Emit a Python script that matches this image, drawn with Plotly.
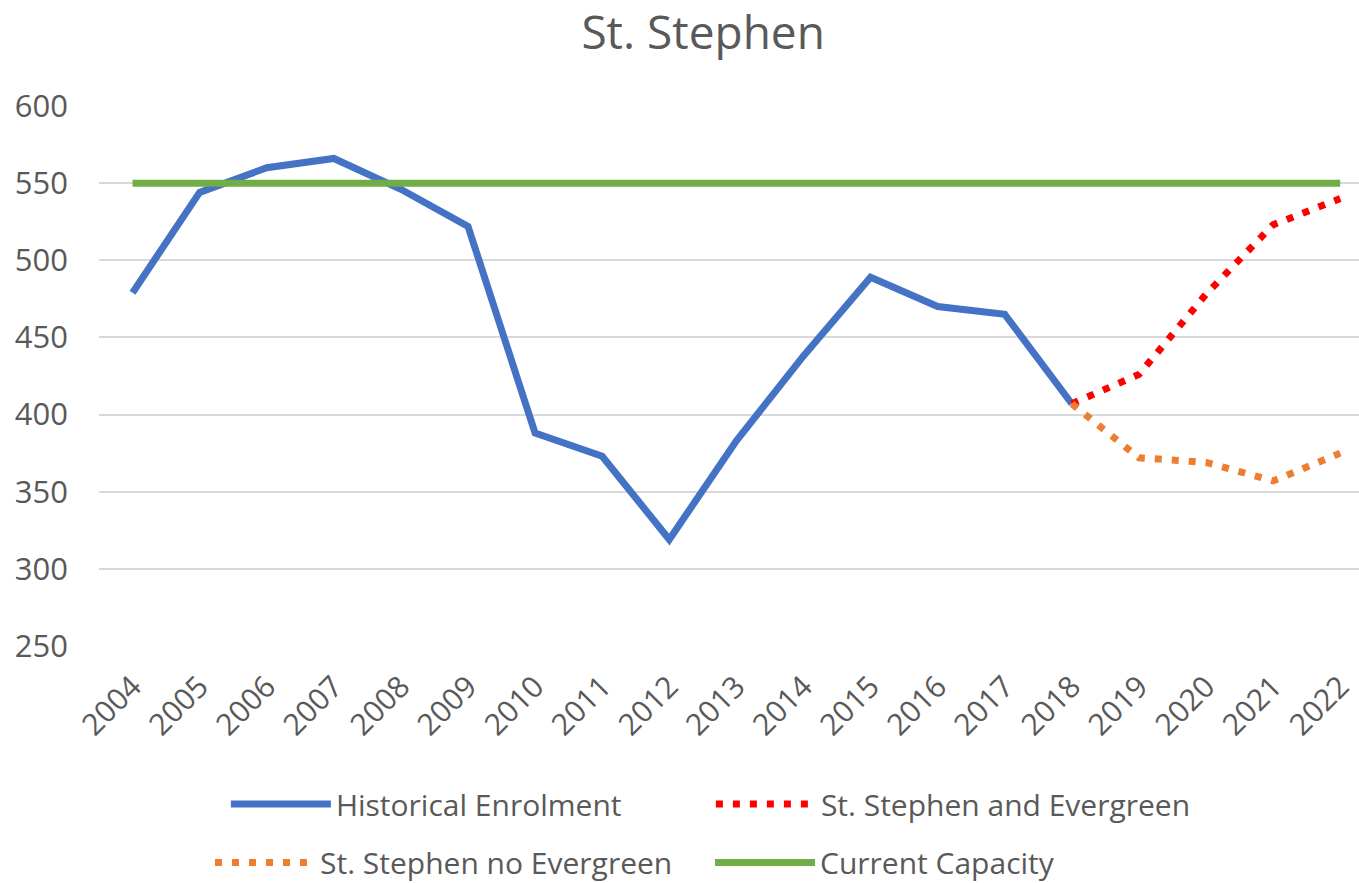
import plotly.graph_objects as go

years = [str(y) for y in range(2004, 2023)]
hist_years = [str(y) for y in range(2004, 2019)]
proj_years = [str(y) for y in range(2018, 2023)]

historical = [479, 544, 560, 566, 546, 522, 388, 373, 319, 383, 438, 489, 470, 465, 407]
with_evergreen = [407, 426, 478, 523, 540]
no_evergreen = [407, 372, 369, 357, 375]
capacity = [550] * len(years)

TXT = "#595959"
FONT = "Open Sans"

fig = go.Figure()
fig.add_trace(go.Scatter(x=hist_years, y=historical, mode="lines", name="Historical Enrolment",
                         line=dict(color="#4472C4", width=7), legend="legend"))
fig.add_trace(go.Scatter(x=proj_years, y=with_evergreen, mode="lines", name="St. Stephen and Evergreen",
                         line=dict(color="#FF0000", width=7, dash="7px,10px"), legend="legend"))
fig.add_trace(go.Scatter(x=proj_years, y=no_evergreen, mode="lines", name="St. Stephen no Evergreen",
                         line=dict(color="#ED7D31", width=7, dash="7px,10px"), legend="legend2"))
fig.add_trace(go.Scatter(x=years, y=capacity, mode="lines", name="Current Capacity",
                         line=dict(color="#70AD47", width=7), legend="legend2"))

legend_common = dict(orientation="h", xanchor="left", yanchor="top",
                     entrywidthmode="pixels", itemwidth=100,
                     font=dict(size=30, color=TXT, family=FONT), bgcolor="rgba(0,0,0,0)")

fig.update_layout(
    width=1359, height=883,
    margin=dict(l=99, r=0, t=106, b=237, autoexpand=False),
    paper_bgcolor="white", plot_bgcolor="white",
    font=dict(family=FONT, color=TXT, size=30),
    title=dict(text="St. Stephen", x=0.5174, xanchor="center", y=0.963, yanchor="middle",
               font=dict(size=46, color=TXT, family=FONT)),
    showlegend=True,
    legend=dict(x=0.1007, y=-0.2444, entrywidth=370, **legend_common),
    legend2=dict(x=0.0881, y=-0.353, entrywidth=385, **legend_common),
    hovermode=False,
)
fig.update_xaxes(type="category", categoryorder="array", categoryarray=years,
                 range=[-0.5, 18.28], tickangle=-45, showgrid=False, showline=False,
                 ticks="", ticklabelstandoff=16, automargin=False,
                 tickfont=dict(size=30, color=TXT))
fig.update_yaxes(range=[250, 600], dtick=50, tick0=250, showgrid=True, gridcolor="#D9D9D9",
                 gridwidth=2, zeroline=False, showline=False, ticks="", automargin=False,
                 ticklabelstandoff=30, tickfont=dict(size=31, color=TXT))

fig.write_html("out.html", config={"displayModeBar": False, "staticPlot": True},
               post_script="document.body.style.margin='0';document.body.style.overflow='hidden';")
